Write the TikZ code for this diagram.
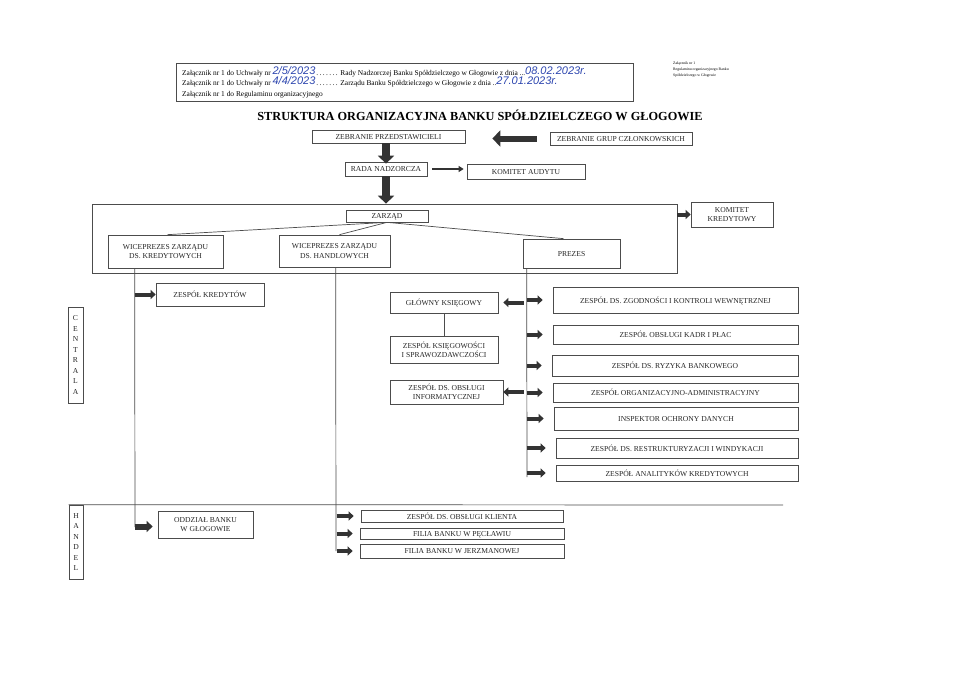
\documentclass[tikz,border=0pt]{standalone}
\usepackage{fontspec}
\setmainfont{Liberation Serif}
\newfontfamily\handfont{Liberation Sans}
\usetikzlibrary{arrows.meta}
\definecolor{ink}{gray}{0.3}
\definecolor{pen}{RGB}{45,70,175}
\newcommand{\hw}[1]{\raisebox{1pt}{\handfont\itshape\fontsize{11}{11}\selectfont\color{pen}#1}}

\begin{document}
\begin{tikzpicture}[x=1pt,y=-1pt,
  box/.style={draw=ink,line width=0.7pt,rectangle,inner sep=1pt,align=center,text depth=0pt,
    text=black!85,font=\fontsize{7.6}{9.3}\selectfont},
  ln/.style={draw=ink,line width=0.7pt},
  hdrline/.style={anchor=base west,inner sep=0pt,font=\fontsize{7.4}{8}\selectfont},
  bigarr/.style={draw=black!80,line width=#1,-{Triangle[length=8pt,width=16pt]}},
  thinarr/.style={draw=black!80,line width=2pt,-{Triangle[length=5pt,width=6pt]}},
  sarr/.style={draw=black!80,line width=4pt,-{Triangle[length=5pt,width=9pt]}}]
\useasboundingbox (0,0) rectangle (965,682);
\fill[white] (0,0) rectangle (965,682);

% naglowek
\node[draw=ink,line width=0.7pt,minimum width=457pt,minimum height=38pt] (hdr) at (404.5,82) {};
\node[hdrline] (h1) at (182,76)
  {Załącznik nr 1 do Uchwały nr \makebox[66pt][l]{\hw{2/5/2023}\dotfill} Rady Nadzorczej Banku Spółdzielczego w Głogowie z dnia \makebox[66pt][l]{...\hw{08.02.2023r.}}};
\node[hdrline] (h2) at (182,86)
  {Załącznik nr 1 do Uchwały nr \makebox[66pt][l]{\hw{4/4/2023}\dotfill} Zarządu Banku Spółdzielczego w Głogowie z dnia \makebox[66pt][l]{..\hw{27.01.2023r.}}};
\node[hdrline] (h3) at (182,96)
  {Załącznik nr 1 do Regulaminu organizacyjnego};
\node[anchor=north west,inner sep=0pt,align=left,font=\fontsize{3.8}{6}\selectfont] (note) at (673,62)
  {Załącznik nr 1\\Regulaminu organizacyjnego Banku\\Spółdzielczego w Głogowie};

\node[font=\bfseries\fontsize{12.3}{13}\selectfont] (title) at (480,115)
  {STRUKTURA ORGANIZACYJNA BANKU SPÓŁDZIELCZEGO W GŁOGOWIE};

% gora
\node[box,minimum width=153pt,minimum height=13pt] (zp) at (388.5,136.5) {ZEBRANIE PRZEDSTAWICIELI};
\node[box,minimum width=142pt,minimum height=13pt] (zgc) at (621,138.5) {ZEBRANIE GRUP CZŁONKOWSKICH};
\node[box,minimum width=82pt,minimum height=14pt] (rn) at (386,169) {RADA NADZORCZA};
\node[box,minimum width=118pt,minimum height=15pt] (ka) at (526,171.5) {KOMITET AUDYTU};

\draw[bigarr=6pt] ([xshift=-13pt]zgc.west) -- ([xshift=27pt]zp.east |- zgc.west);
\draw[bigarr=8pt] (zp.south -| rn.north) -- ([yshift=-2pt]rn.north);
\draw[thinarr] ([xshift=5pt]rn.east) -- ([xshift=-3pt]ka.west |- rn.east);

% zarzad
\node[draw=ink,line width=0.7pt,minimum width=585pt,minimum height=69pt] (cont) at (384.5,238.5) {};
\draw[bigarr=8pt] (rn.south) -- (cont.north -| rn.south);
\node[box,minimum width=82pt,minimum height=12pt] (zarzad) at (387,216) {ZARZĄD};
\node[box,minimum width=115pt,minimum height=33pt] (wk) at (165.5,251.5) {WICEPREZES ZARZĄDU\\DS. KREDYTOWYCH};
\node[box,minimum width=111pt,minimum height=32pt] (wh) at (334.5,251) {WICEPREZES ZARZĄDU\\DS. HANDLOWYCH};
\node[box,minimum width=97pt,minimum height=29pt] (prezes) at (571.5,253.5) {PREZES};
\node[box,minimum width=82pt,minimum height=25pt] (kk) at (732,214.5) {KOMITET\\KREDYTOWY};

\draw[ln] (zarzad.south) -- ([xshift=2pt]wk.north);
\draw[ln] (zarzad.south) -- ([xshift=5pt]wh.north);
\draw[ln] (zarzad.south) -- ([xshift=-8pt]prezes.north);
\draw[sarr] (cont.east |- kk.west) -- (kk.west);

% centrala
\node[box,minimum width=15pt,minimum height=96pt,font=\fontsize{7.6}{10.5}\selectfont] (centrala) at (75.5,355)
  {C\\E\\N\\T\\R\\A\\L\\A};
\node[box,minimum width=108pt,minimum height=23pt] (zkred) at (210,294.5) {ZESPÓŁ KREDYTÓW};
\node[box,minimum width=108pt,minimum height=21pt] (gk) at (444,302.5) {GŁÓWNY KSIĘGOWY};
\node[box,minimum width=108pt,minimum height=27pt] (zks) at (444,349.5) {ZESPÓŁ KSIĘGOWOŚCI\\I SPRAWOZDAWCZOŚCI};
\node[box,minimum width=113pt,minimum height=24pt] (zoi) at (446.5,392) {ZESPÓŁ DS. OBSŁUGI\\INFORMATYCZNEJ};
\draw[ln] (gk.south) -- (zks.north);

\node[box,minimum width=245pt,minimum height=26pt] (zzk) at (675.5,300) {ZESPÓŁ DS. ZGODNOŚCI I KONTROLI WEWNĘTRZNEJ};
\node[box,minimum width=245pt,minimum height=19pt] (kadr) at (675.5,334.5) {ZESPÓŁ OBSŁUGI KADR I PŁAC};
\node[box,minimum width=246pt,minimum height=21pt] (ryz) at (675,365.5) {ZESPÓŁ DS. RYZYKA BANKOWEGO};
\node[box,minimum width=245pt,minimum height=19pt] (org) at (675.5,392.5) {ZESPÓŁ ORGANIZACYJNO-ADMINISTRACYJNY};
\node[box,minimum width=244pt,minimum height=23pt] (iod) at (676,418.5) {INSPEKTOR OCHRONY DANYCH};
\node[box,minimum width=242pt,minimum height=20pt] (res) at (677,448) {ZESPÓŁ DS. RESTRUKTURYZACJI I WINDYKACJI};
\node[box,minimum width=242pt,minimum height=16pt] (ana) at (677,473) {ZESPÓŁ ANALITYKÓW KREDYTOWYCH};

% linie pionowe
\coordinate (kv) at ([xshift=27pt]wk.south west);
\coordinate (kvend) at (135,527);
\coordinate (hv) at ([xshift=57pt]wh.south west);
\coordinate (hvend) at (336,551);
\coordinate (pv) at ([xshift=4pt]prezes.south west);
\coordinate (pvend) at (527,477);
\draw[ln] (kv) -- (kvend);
\draw[ln] (hv) -- (hvend);
\draw[ln] (pv) -- (pvend);

\draw[sarr] (kv |- zkred.west) -- (zkred.west);
\draw[sarr] ([xshift=-3pt]pv |- gk.east) -- ([xshift=5pt]gk.east);
\draw[sarr] ([xshift=-3pt]pv |- zoi.east) -- (zoi.east);
\foreach \b in {zzk,kadr,ryz,org,iod,res,ana}
  \draw[sarr] (pv |- \b.west) -- ([xshift=-10pt]\b.west);

% handel
\node[box,minimum width=14pt,minimum height=74pt,font=\fontsize{7.6}{10.4}\selectfont] (handel) at (76,542)
  {H\\A\\N\\D\\E\\L};
\coordinate (sepend) at (783,505);
\draw[ln] (handel.north west) -- (sepend);

\node[box,minimum width=95pt,minimum height=27pt] (oddzial) at (205.5,524.5) {ODDZIAŁ BANKU\\W GŁOGOWIE};
\node[box,minimum width=202pt,minimum height=12pt] (klient) at (462,516) {ZESPÓŁ DS. OBSŁUGI KLIENTA};
\node[box,minimum width=204pt,minimum height=11pt] (peclaw) at (462,533.5) {FILIA BANKU W PĘCŁAWIU};
\node[box,minimum width=204pt,minimum height=14pt] (jerz) at (462,551) {FILIA BANKU W JERZMANOWEJ};

\draw[sarr,line width=6pt,-{Triangle[length=6pt,width=11pt]}] ([yshift=-2pt]kv |- oddzial.west) -- ([xshift=-5pt,yshift=-2pt]oddzial.west);
\foreach \b in {klient,peclaw,jerz}
  \draw[sarr] ([xshift=1pt]hv |- \b.west) -- ([xshift=-7pt]\b.west);
\end{tikzpicture}
\end{document}
